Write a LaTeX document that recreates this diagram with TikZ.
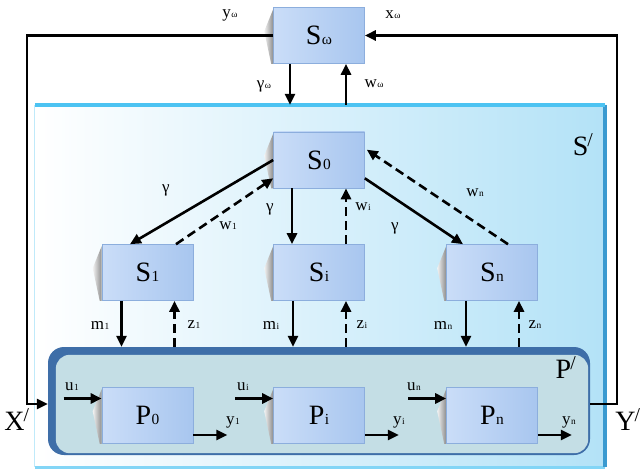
\documentclass[tikz,border=0pt]{standalone}
\usepackage{fontspec}
\usepackage{graphicx}
\setmainfont{Liberation Serif}
\usetikzlibrary{arrows.meta}

\definecolor{boxL}{HTML}{CADDF8}
\definecolor{boxR}{HTML}{A8C6EF}
\definecolor{boxEdge}{HTML}{8CAEDD}
\definecolor{skyEdge}{HTML}{4CC3F2}
\definecolor{skyDeep}{HTML}{3A9AD0}
\definecolor{skyFill}{HTML}{B3E2F7}
\definecolor{plantEdge}{HTML}{3E6EA8}
\definecolor{plantFill}{HTML}{C4DEE5}

% small index set on the baseline
\newcommand\lo[1]{\kern0.5pt\scalebox{0.55}{#1}}
% slanted accent mark after a symbol
\newcommand\acc{\textsuperscript{\kern-1pt/}}

% grey curl-shadow wedge on the left side of a block
\newcommand\curlshade[1]{%
  \shade[left color=black!5, right color=black!45]
    ([yshift=-2pt]#1.north west) -- ([xshift=-9pt,yshift=-24pt]#1.north west)
    -- ([xshift=-2pt]#1.south west) -- (#1.south west) -- cycle;}

\tikzset{
  blk/.style={minimum width=91pt, minimum height=56pt, inner sep=0pt,
    left color=boxL, right color=boxR, draw=boxEdge, line width=0.6pt,
    font=\fontsize{28}{28}\selectfont},
  arr/.style={line width=2.6pt, -{Triangle[length=11pt,width=10pt]}},
  darr/.style={arr, dash pattern=on 9pt off 5pt},
  lbl/.style={font=\fontsize{17}{17}\selectfont, inner sep=0pt},
  big/.style={font=\fontsize{28}{28}\selectfont, inner sep=0pt},
}

\begin{document}
\begin{tikzpicture}[x=1pt,y=-1pt]
\useasboundingbox (0,0) rectangle (642,470);

% coordinator frame S'
\node[inner sep=0pt, minimum width=570pt, minimum height=362pt,
      left color=white, right color=skyFill] (Sp) at (320,286) {};
\draw[skyEdge!70, line width=3pt] (Sp.south west) -- (Sp.south east);
\draw[skyEdge!35, line width=1pt] (Sp.north west) -- (Sp.south west);
\draw[skyDeep, line width=4pt] (Sp.north east) -- (Sp.south east);
\draw[skyEdge, line width=4.5pt] (Sp.north west) -- (Sp.north east);

% plant frame P'
\node[rounded corners=16pt, fill=plantEdge, minimum width=542pt,
      minimum height=108pt, inner sep=0pt] (Pp) at (319,401) {};
\fill[plantFill, rounded corners=14pt]
  ([xshift=8pt,yshift=-8pt]Pp.north west) rectangle ([xshift=-2pt,yshift=2pt]Pp.south east);

% blocks
\node[blk] (Sw) at (319,35.5) {S\lo{ω}};
\node[blk] (S0) at (319,160) {S\lo{0}};
\node[blk] (S1) at (147.5,272.5) {S\lo{1}};
\node[blk] (Si) at (319,272.5) {S\lo{i}};
\node[blk] (Sn) at (492,272.5) {S\lo{n}};
\node[blk] (P0) at (147.5,415.5) {P\lo{0}};
\node[blk] (Pi) at (319,415.5) {P\lo{i}};
\node[blk] (Pn) at (492,415.5) {P\lo{n}};
\foreach \b in {Sw,S0,S1,Si,Sn,P0,Pi,Pn} {\curlshade{\b}}

% upper level exchange
\draw[arr] ([xshift=-29pt]Sw.south) -- ([xshift=-29pt]Sw.south |- Sp.north);
\draw[arr] ([xshift=27pt]Sw.south |- Sp.north) -- ([xshift=27pt]Sw.south);

% coordination S0 <-> S1, Si, Sn
\draw[arr] (S0.west) -- ([xshift=-17.5pt]S1.north);
\draw[darr] ([xshift=28.5pt]S1.north) -- ([yshift=10pt]S0.south west);
\draw[arr] ([xshift=-27pt]S0.south) -- ([xshift=-27pt]Si.north);
\draw[darr] ([xshift=27pt]Si.north) -- ([xshift=27pt]S0.south);
\draw[arr] ([yshift=10pt]S0.south east) -- ([xshift=-29pt]Sn.north);
\draw[darr] ([xshift=16pt]Sn.north) -- ([xshift=2pt,yshift=-18pt]S0.north east);

% local controllers <-> plant
\foreach \s in {S1,Si,Sn} {
  \draw[arr] ([xshift=-26pt]\s.south) -- ([xshift=-26pt]\s.south |- Pp.north);
  \draw[darr] ([xshift=27pt]\s.south |- Pp.north) -- ([xshift=27pt]\s.south);
}

% subsystem inputs and outputs
\foreach \p in {P0,Pi,Pn} {
  \draw[arr] ([yshift=17pt]\p.west) ++(-38,0) -- ([yshift=17pt]\p.west);
  \draw[arr] ([yshift=-19.5pt]\p.east) -- ++(34,0);
}

% outer loop X' -> P' -> Y' -> Sw
\coordinate (LX) at (27,0);
\coordinate (RX) at (617,0);
\coordinate (Pin) at ([yshift=-3pt]Pp.west);
\coordinate (Pout) at ([yshift=-3pt]Pp.east);
\draw[arr] (Sw.west) -| (Pin -| LX) -- (Pin);
\draw[arr] (Pout) -| (Sw.east -| RX) -- (Sw.east);

% labels
\node[lbl] (Lyw) at (230,15) {y\lo{ω}};
\node[lbl] (Lxw) at (393,15) {x\lo{ω}};
\node[lbl] (Lgw) at (264,86) {γ\lo{ω}};
\node[lbl] (Lww) at (374,84) {w\lo{ω}};
\node[big] (LSp) at (583,145) {S\acc};
\node[lbl] (Lg1) at (166,190) {γ};
\node[lbl] (Lw1) at (228,226) {w\lo{1}};
\node[lbl] (Lgi) at (270,209) {γ};
\node[lbl] (Lwi) at (363,207) {w\lo{i}};
\node[lbl] (Lgn) at (395,228) {γ};
\node[lbl] (Lwn) at (475,193) {w\lo{n}};
\node[lbl] (Lm1) at (100,325) {m\lo{1}};
\node[lbl] (Lz1) at (194,325) {z\lo{1}};
\node[lbl] (Lmi) at (271,325) {m\lo{i}};
\node[lbl] (Lzi) at (362,325) {z\lo{i}};
\node[lbl] (Lmn) at (443,325) {m\lo{n}};
\node[lbl] (Lzn) at (535,325) {z\lo{n}};
\node[lbl] (Lu1) at (72,387) {u\lo{1}};
\node[lbl] (Lui) at (243,387) {u\lo{i}};
\node[lbl] (Lun) at (414,387) {u\lo{n}};
\node[lbl] (Ly1) at (233,422) {y\lo{1}};
\node[lbl] (Lyi) at (399,422) {y\lo{i}};
\node[lbl] (Lyn) at (569,422) {y\lo{n}};
\node[big] (LPp) at (566,368) {P\acc};
\node[big] (LXin) at (17,420) {X\acc};
\node[big] (LYout) at (628,420) {Y\acc};
\end{tikzpicture}
\end{document}
